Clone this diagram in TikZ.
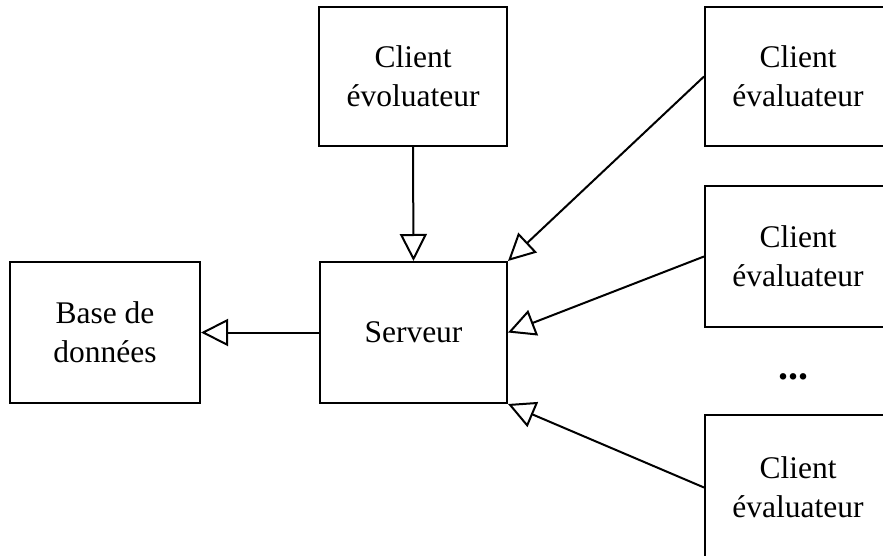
\documentclass[tikz,border=0pt]{standalone}
\usepackage{fontspec}
\setmainfont{Liberation Serif}
\usetikzlibrary{arrows.meta}
\begin{document}
\begin{tikzpicture}[x=1pt,y=-1pt,
  box/.style={draw,line width=2pt,minimum width=#1,inner sep=0pt,align=center,
    font=\fontsize{31.5}{39}\selectfont},
  box/.default=188pt,
  arr/.style={line width=2pt,-{Triangle[open,length=27pt,width=27pt,line width=2pt]}}]
  \useasboundingbox (0,0) rectangle (883,556);
  \clip (0,0) rectangle (883,556);
  % left and centre column
  \node[box=190pt,minimum height=141pt] (base) at (105,332.5) {Base de\\données};
  \node[box=187pt,minimum height=141pt] (srv) at (413.5,332.5) {Serveur};
  \node[box=188pt,minimum height=139pt] (top) at (413,76.5) {Client\\évoluateur};
  % evaluating clients on the right
  \node[box=186pt,minimum height=139pt] (r1) at (798,76.5) {Client\\évaluateur};
  \node[box=186pt,minimum height=141pt] (r2) at (798,256.5) {Client\\évaluateur};
  \node[font=\fontsize{40}{40}\selectfont\bfseries] (dots) at (793,377) {...};
  \node[box=186pt,minimum height=145pt] (r4) at (798,487.5) {Client\\évaluateur};
  % connectors
  \draw[arr] (top.south) -- (srv.north);
  \draw[arr] (r1.west) -- (srv.north east);
  \draw[arr] (r2.west) -- (srv.east);
  \draw[arr] (r4.west) -- (srv.south east);
  \draw[arr] (srv.west) -- (base.east);
\end{tikzpicture}
\end{document}
